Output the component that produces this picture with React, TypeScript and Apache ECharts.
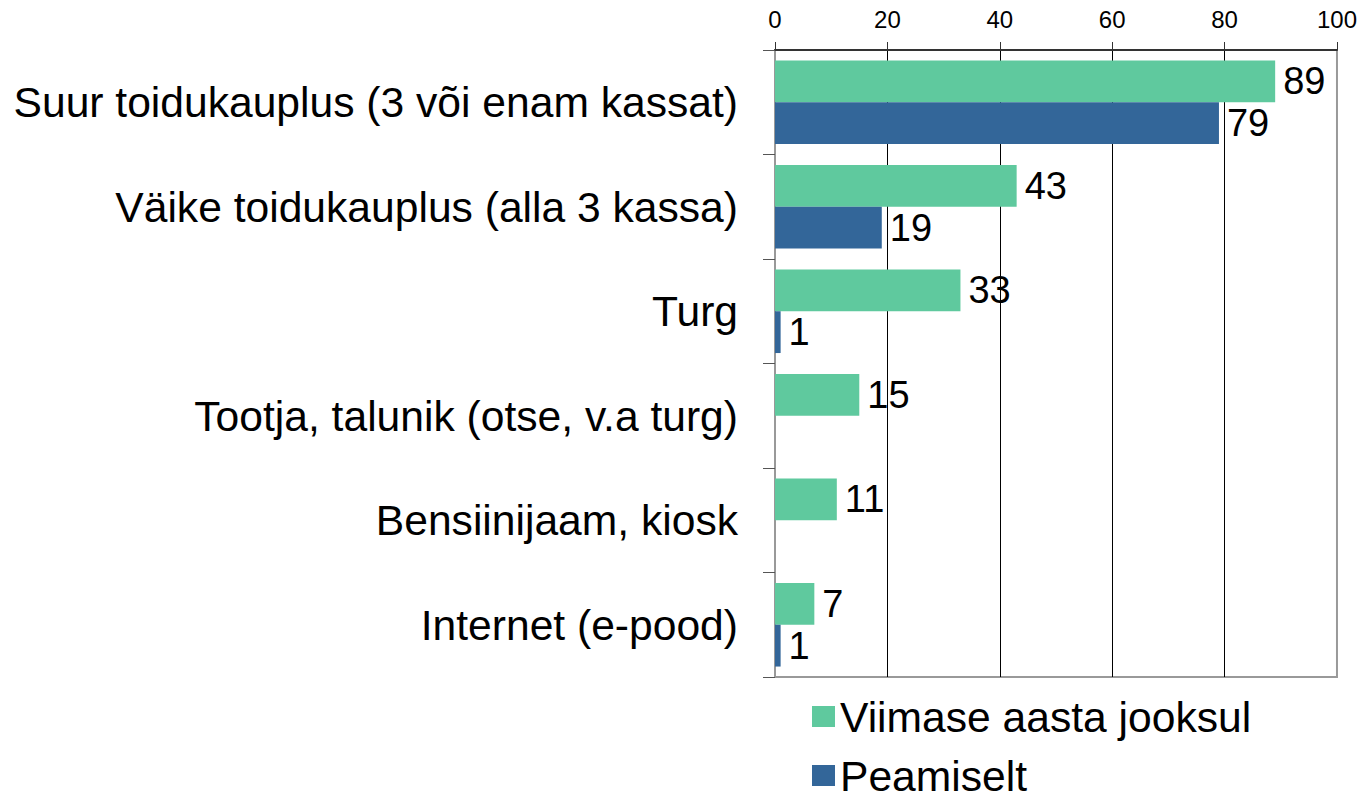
import React, { useEffect, useRef } from "react";
import * as echarts from "echarts";

const categories = [
  "Suur toidukauplus (3 või enam kassat)",
  "Väike toidukauplus (alla 3 kassa)",
  "Turg",
  "Tootja, talunik (otse, v.a turg)",
  "Bensiinijaam, kiosk",
  "Internet (e-pood)",
];
const seriesNames = ["Viimase aasta jooksul", "Peamiselt"];
const lastYear = [89, 43, 33, 15, 11, 7];
const mainly = [79, 19, 1, 0, 0, 1];

export default function App() {
  const ref = useRef<HTMLDivElement>(null);
  useEffect(() => {
    document.body.style.margin = "0";
    const chart = echarts.init(ref.current!, null, { renderer: "svg" });
    const font = "'Liberation Sans', Arial, sans-serif";
    const labelCfg = {
      show: true,
      position: "right",
      distance: 8,
      fontSize: 38,
      fontFamily: font,
      color: "#000",
      formatter: (p: any) => (p.value === 0 ? "" : String(p.value)),
    };
    chart.setOption({
      animation: false,
      backgroundColor: "#fff",
      textStyle: { fontFamily: font },
      grid: {
        left: 775,
        right: 23,
        top: 50,
        bottom: 117,
        show: true,
        borderColor: "#999",
        borderWidth: 2,
        backgroundColor: "transparent",
      },
      legend: {
        orient: "vertical",
        left: 812,
        top: 695,
        height: 140,
        padding: 0,
        itemWidth: 23,
        itemHeight: 21,
        itemGap: 16,
        icon: "rect",
        textStyle: { fontSize: 42.6, color: "#000", fontFamily: font },
        data: seriesNames,
      },
      xAxis: {
        type: "value",
        position: "top",
        min: 0,
        max: 100,
        interval: 20,
        axisLine: { show: true, lineStyle: { color: "#333", width: 2 } },
        axisTick: { show: true, length: 8, lineStyle: { color: "#333" } },
        axisLabel: { fontSize: 24, color: "#000", margin: 19, fontFamily: font },
        splitLine: {
          show: true,
          showMinLine: false,
          showMaxLine: false,
          lineStyle: { color: "#000", width: 1 },
        },
      },
      yAxis: {
        type: "category",
        inverse: true,
        data: categories,
        axisLine: { show: true, lineStyle: { color: "#999", width: 2 } },
        axisTick: { show: true, length: 12, lineStyle: { color: "#555" } },
        axisLabel: { fontSize: 42.6, color: "#000", margin: 37, fontFamily: font },
      },
      series: [
        {
          name: seriesNames[0],
          type: "bar",
          data: lastYear,
          barGap: "0%",
          barCategoryGap: "20%",
          itemStyle: { color: "#5FC99E" },
          label: labelCfg,
        },
        {
          name: seriesNames[1],
          type: "bar",
          data: mainly,
          barGap: "0%",
          barCategoryGap: "20%",
          itemStyle: { color: "#336699" },
          label: labelCfg,
        },
      ],
    });
    return () => chart.dispose();
  }, []);
  return (
    <div
      ref={ref}
      style={{ position: "fixed", left: 0, top: 0, width: 1360, height: 794 }}
    />
  );
}
